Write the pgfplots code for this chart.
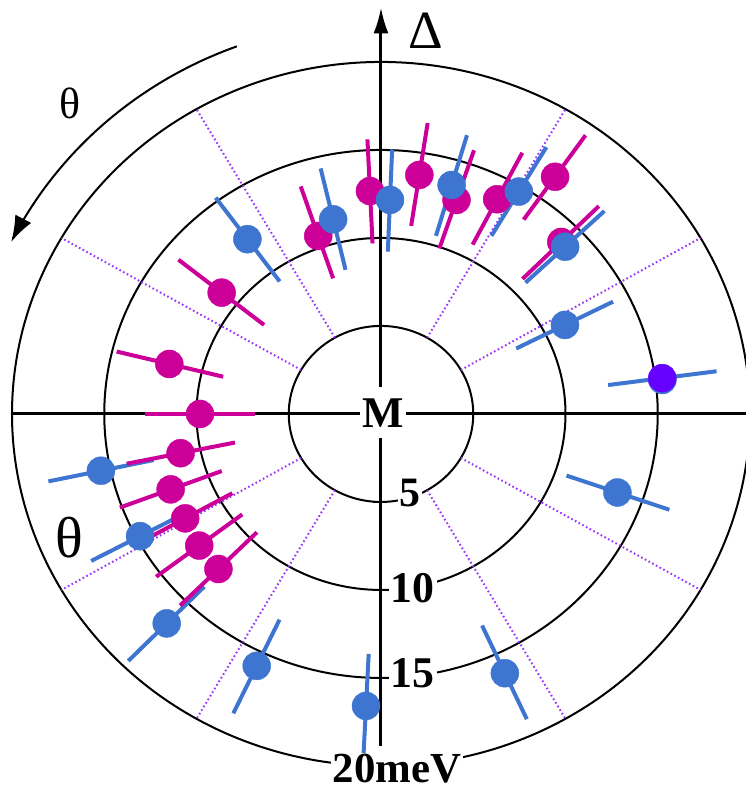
\documentclass[border=0pt]{standalone}
\usepackage{pgfplots}
\pgfplotsset{compat=1.18}
\usepackage{fontspec}
\setmainfont{Liberation Serif}
\usetikzlibrary{arrows.meta}
\definecolor{cblue}{RGB}{61,117,208}
\definecolor{cmag}{RGB}{204,0,153}
\definecolor{cvio}{RGB}{102,0,255}
\definecolor{cdot}{RGB}{153,51,255}
\newcommand{\ebar}[4]{\addplot[#1, line width=4bp, data cs=polar, mark=none] coordinates {(#2,#3) (#2,#4)};}
\newcommand{\rgrid}[1]{\addplot[cdot, line width=2bp, dash pattern=on 1.6bp off 2.6bp, data cs=polar, mark=none] coordinates {(#1,5) (#1,20)};}
\begin{document}
\begin{tikzpicture}
\begin{axis}[
  x=18.45bp, y=17.6bp,
  xmin=-20.65, xmax=19.78, ymin=-21.48, ymax=23.52,
  scale only axis,
  axis line style={draw=none},
  xtick=\empty, ytick=\empty,
  clip=true,
]
% circles
\addplot[black, line width=2bp, domain=0:360, samples=361, data cs=polar, mark=none] (x,5);
\addplot[black, line width=2bp, domain=0:360, samples=361, data cs=polar, mark=none] (x,10);
\addplot[black, line width=2bp, domain=0:360, samples=361, data cs=polar, mark=none] (x,15);
\addplot[black, line width=2bp, domain=0:360, samples=361, data cs=polar, mark=none] (x,20);
% dotted radial lines
\rgrid{30}\rgrid{60}\rgrid{120}\rgrid{150}\rgrid{210}\rgrid{240}\rgrid{300}\rgrid{330}
% theta arrow
\addplot[black, line width=2bp, domain=110.5:154, samples=80, data cs=polar, mark=none, -{Latex[length=26bp,width=18bp]}] (x,22.3);
% axes
\draw[line width=3bp] (axis cs:-20,0) -- (axis cs:21,0);
\draw[line width=3bp, -{Latex[length=26bp,width=15bp]}] (axis cs:0,0) -- (axis cs:0,23.1);
\draw[line width=3bp] (axis cs:0,0) -- (axis cs:0,-18.86);
\draw[line width=2.5bp] (axis cs:-0.45,5) -- (axis cs:0,5);
\draw[line width=2.5bp] (axis cs:-0.45,10) -- (axis cs:0,10);
\draw[line width=2.5bp] (axis cs:-0.45,15) -- (axis cs:0,15);
\draw[line width=2.5bp] (axis cs:-0.45,20) -- (axis cs:0,20);
\draw[line width=2.5bp] (axis cs:-0.45,-5) -- (axis cs:0.1,-5);
\draw[line width=2.5bp] (axis cs:-0.45,-10) -- (axis cs:0.1,-10);
\draw[line width=2.5bp] (axis cs:-0.45,-15) -- (axis cs:0.1,-15);
% magenta dots
\addplot[only marks, mark=*, mark size=14bp, color=cmag, data cs=polar] coordinates {
(108.6,10.67) (92.7,12.68) (81.3,13.74) (71.4,12.83) (62.7,13.73) (55.0,16.45) (45.0,13.82)
(180,9.81) (191.6,11.09) (200.6,12.18) (209.2,12.16) (217.2,12.37) (225.0,12.46)
(166.1,11.82) (141.4,11.05)
};
% blue dots
\addplot[only marks, mark=*, mark size=14bp, color=cblue, data cs=polar] coordinates {
(103.2,11.36) (87.7,12.17) (73.6,13.56) (59.4,14.68) (43.6,13.78) (26.9,11.18) (7.21,15.37)
(340.8,13.57) (294.5,16.19) (267.2,16.61) (244.8,15.82) (225.7,16.63)
(192.0,15.52) (208.0,14.79) (126.1,12.29)
};
% blue error bars
\ebar{cblue}{103.2}{8.41}{14.33}
\ebar{cblue}{87.7}{9.23}{15.05}
\ebar{cblue}{73.6}{10.55}{16.51}
\ebar{cblue}{59.4}{11.76}{17.61}
\ebar{cblue}{43.6}{10.82}{16.72}
\ebar{cblue}{26.9}{8.22}{14.10}
\ebar{cblue}{7.6}{12.42}{18.35}
\ebar{cblue}{340.8}{10.65}{16.55}
\ebar{cblue}{294.5}{13.21}{19.06}
\ebar{cblue}{267.2}{13.65}{19.55}
\ebar{cblue}{244.8}{12.92}{18.80}
\ebar{cblue}{225.7}{13.71}{19.61}
\ebar{cblue}{192.0}{12.60}{18.43}
\ebar{cblue}{208.0}{11.85}{17.79}
\ebar{cblue}{126.1}{9.32}{15.21}
% magenta error bars
\ebar{cmag}{108.6}{8.13}{13.64}
\ebar{cmag}{92.7}{9.70}{15.62}
\ebar{cmag}{81.3}{10.81}{16.72}
\ebar{cmag}{71.4}{9.92}{15.81}
\ebar{cmag}{62.7}{10.83}{16.70}
\ebar{cmag}{55.0}{13.48}{19.33}
\ebar{cmag}{45.0}{10.85}{16.70}
\ebar{cmag}{180}{6.83}{12.79}
\ebar{cmag}{191.6}{8.08}{14.07}
\ebar{cmag}{200.6}{9.22}{15.12}
\ebar{cmag}{209.2}{9.23}{15.11}
\ebar{cmag}{217.2}{9.44}{15.30}
\ebar{cmag}{225.0}{9.51}{15.40}
\ebar{cmag}{166.1}{8.81}{14.76}
\ebar{cmag}{141.4}{8.11}{14.05}
% violet dot
\addplot[only marks, mark=*, mark size=14bp, color=cvio, data cs=polar] coordinates {(7.6,15.38)};
% labels
\node[fill=white, inner sep=0pt, minimum width=46bp, minimum height=51bp, font=\fontsize{44}{48}\selectfont\bfseries] at (axis cs:0.11,0.06) {M};
\node[fill=white, inner xsep=2bp, inner ysep=0pt, font=\fontsize{42}{46}\selectfont\bfseries] at (axis cs:1.57,-4.49) {5};
\node[fill=white, inner xsep=2bp, inner ysep=0pt, font=\fontsize{44}{48}\selectfont\bfseries] at (axis cs:1.73,-9.89) {10};
\node[fill=white, inner xsep=2bp, inner ysep=0pt, font=\fontsize{44}{48}\selectfont\bfseries] at (axis cs:1.73,-14.72) {15};
\node[fill=white, inner xsep=2bp, inner ysep=1bp, text depth=0pt, anchor=base, font=\fontsize{43}{47}\selectfont\bfseries] at (axis cs:0.87,-20.92) {20meV};
\node[font=\fontsize{54}{60}\selectfont] at (axis cs:2.44,21.76) {Δ};
\node[font=\fontsize{44}{48}\selectfont] at (axis cs:-16.86,17.67) {θ};
\node[font=\fontsize{58}{64}\selectfont] at (axis cs:-16.91,-7.05) {θ};
\end{axis}
\end{tikzpicture}
\end{document}
